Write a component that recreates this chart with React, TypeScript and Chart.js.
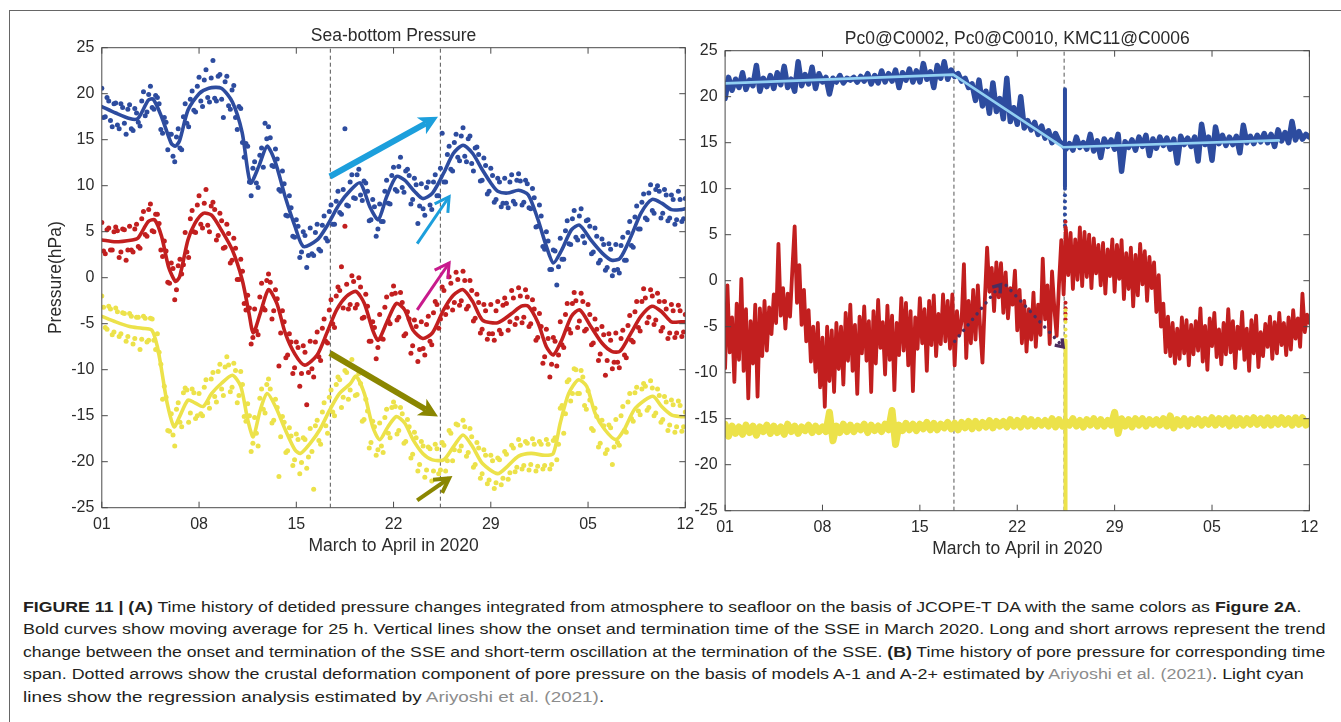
import React, { useEffect, useLayoutEffect, useRef } from "react";
import { Chart, registerables } from "chart.js";

Chart.register(...registerables);

const FONT = "'Liberation Sans', Arial, Helvetica, sans-serif";
const TEXT = "#2b2b2b";
const AXIS = "#4a4a4a";

// Time axis: days since 1 March 2020 00:00
const dayTicks = [0, 7, 14, 21, 28, 35, 42];
const dayTickLabels = ["01", "08", "15", "22", "29", "05", "12"];
const pressureMin = -25;
const pressureMax = 25;
const pressureStep = 5;
const sseOnsetDay = 16.45;
const sseEndDay = 24.37;

// ---------- (A) sea-bottom pressure ----------
// samples on the 6-hour grid (00, 06, 12, 18 h)
const blueSamples = [
  20.6, 17.5, 19.2, 16.4, 19.0, 16.2, 18.5, 15.6, 18.8, 16.0, 17.9, 16.5,
  20.2, 18.0, 20.8, 18.3, 19.6, 16.1, 17.4, 13.9, 15.6, 12.6, 16.2, 13.9,
  18.9, 16.4, 20.3, 18.0, 21.8, 18.6, 22.6, 19.1, 23.6, 19.2, 22.1, 17.4,
  21.9, 18.3, 20.9, 16.1, 18.4, 13.1, 14.3, 8.9, 12.6, 9.8, 14.1, 16.8,
  16.4, 12.2, 14.0, 9.6, 11.6, 6.8, 8.9, 4.5, 6.3, 2.2, 5.0, 1.1,
  5.4, 2.4, 5.8, 2.9, 6.7, 4.0, 7.9, 5.8, 9.4, 6.9, 16.2, 7.8,
  11.2, 8.6, 11.8, 8.4, 10.3, 6.2, 8.5, 4.5, 8.0, 6.1, 10.6, 8.0,
  12.0, 9.4, 13.1, 9.3, 11.8, 8.0, 10.8, 5.9, 10.2, 6.8, 10.4, 7.4,
  11.2, 8.9, 15.7, 10.4, 14.3, 11.6, 15.6, 12.7, 16.3, 12.6, 15.4, 11.6,
  14.2, 10.5, 13.0, 9.1, 11.9, 8.2, 10.8, 7.7, 10.8, 7.6, 11.2, 8.0,
  11.3, 7.9, 10.6, 7.6, 9.7, 5.5, 7.9, 3.4, 5.0, 0.9, 3.0, -0.8,
  4.3, 2.0, 6.2, 3.6, 7.3, 4.1, 7.5, 3.8, 6.3, 2.6, 5.4, 1.6,
  4.2, 0.8, 3.7, 0.2, 3.6, 0.5, 4.4, 1.9, 6.1, 3.3, 7.8, 5.3,
  9.1, 6.3, 10.1, 7.0, 10.0, 6.5, 9.6, 6.2, 9.0, 5.8, 9.4, 6.1,
  8.6,
];
const redSamples = [
  6.0, 2.6, 5.4, 3.0, 5.5, 2.2, 5.3, 1.9, 5.6, 2.8, 5.8, 3.2,
  7.2, 4.5, 8.0, 5.0, 6.9, 3.0, 4.0, -0.5, 1.6, -2.4, 1.3, 0.4,
  4.9, 2.2, 7.3, 4.9, 8.9, 5.4, 9.6, 5.0, 8.2, 4.1, 7.0, 3.2,
  5.8, 1.6, 4.3, -0.2, 2.0, -2.8, -1.9, -7.2, -3.4, -6.2, -0.6, -3.5,
  0.4, -4.5, -1.3, -9.6, -3.6, -8.7, -6.1, -10.4, -7.0, -11.8, -7.4, -13.8,
  -6.9, -10.8, -5.9, -9.0, -4.5, -7.1, -2.4, -5.4, -1.0, 1.2, 5.6, -3.4,
  0.2, -3.3, 0.0, -4.4, -1.8, -6.9, -4.8, -8.8, -4.0, -6.7, -2.1, -5.0,
  -0.9, -4.6, -1.6, -6.3, -3.7, -8.2, -4.6, -9.1, -4.8, -8.4, -4.2, -7.3,
  -2.6, -5.5, -1.0, -4.0, 0.1, -3.5, 0.6, -3.0, 0.7, -3.4, -0.3, -4.7,
  -1.8, -6.0, -2.9, -6.7, -2.9, -6.8, -2.6, -6.1, -2.2, -5.7, -1.4, -5.1,
  -1.1, -4.9, -1.3, -5.3, -2.4, -6.8, -3.9, -9.3, -5.6, -10.8, -6.5, -9.6,
  -4.8, -7.6, -2.8, -6.0, -1.6, -5.4, -1.7, -5.8, -2.9, -7.3, -4.5, -9.0,
  -5.3, -10.6, -6.1, -9.9, -6.0, -9.8, -5.7, -8.7, -4.1, -7.0, -2.6, -5.8,
  -1.2, -4.9, -1.3, -5.1, -1.7, -5.8, -2.6, -6.6, -2.9, -6.5, -3.0, -6.4,
  -4.0,
];
const yellowSamples = [
  -2.0, -5.4, -3.1, -6.2, -3.3, -6.4, -3.8, -6.9, -3.9, -7.2, -4.3, -7.8,
  -4.2, -7.0, -4.4, -6.8, -6.1, -9.4, -11.8, -16.6, -14.8, -18.3, -13.6, -16.2,
  -12.0, -15.7, -12.1, -15.3, -12.6, -15.0, -11.1, -14.2, -10.3, -13.5, -9.4, -12.8,
  -8.6, -12.4, -9.3, -13.6, -10.2, -15.1, -13.7, -18.9, -15.2, -18.3, -12.1, -14.7,
  -11.0, -15.8, -13.2, -21.6, -15.1, -19.0, -16.3, -20.4, -17.0, -21.3, -17.4, -20.7,
  -16.4, -23.0, -15.5, -18.1, -13.6, -16.9, -12.2, -15.0, -10.8, -14.1, -10.1, -13.2,
  -8.9, -12.8, -10.4, -15.6, -13.2, -18.5, -15.6, -19.3, -15.8, -19.0, -14.3, -17.4,
  -13.5, -17.0, -14.1, -18.0, -15.4, -19.6, -16.8, -21.0, -17.8, -21.7, -18.4, -22.1,
  -18.1, -21.3, -17.9, -21.0, -16.6, -19.9, -15.9, -18.8, -15.5, -19.4, -16.4, -20.6,
  -17.9, -21.8, -18.7, -22.4, -19.3, -22.9, -19.6, -22.5, -18.9, -21.9, -18.2, -21.1,
  -17.6, -20.8, -17.8, -20.9, -17.5, -21.0, -17.8, -20.8, -17.6, -20.8, -17.7, -19.8,
  -14.2, -16.9, -11.3, -13.4, -9.9, -12.6, -10.1, -13.9, -12.3, -16.4, -14.2, -18.4,
  -15.5, -19.1, -16.0, -20.3, -15.4, -18.2, -14.0, -16.8, -12.6, -15.6, -11.9, -14.9,
  -11.5, -14.4, -11.2, -15.0, -12.1, -15.7, -12.9, -16.6, -13.3, -16.8, -13.4, -16.7,
  -14.6,
];
// samples on the intermediate grid (03, 09, 15, 21 h)
const blueSamplesMid = [
  17.4, 19.6, 17.1, 18.9, 16.6, 18.9, 16.8, 18.3, 16.2, 18.4, 16.9, 19.2,
  17.6, 19.9, 18.5, 19.8, 18.9, 15.7, 16.9, 15.6, 13.2, 15.3, 14.1, 17.5,
  16.8, 19.4, 18.2, 20.8, 19.2, 21.5, 19.6, 21.7, 19.5, 21.9, 19.4, 21.3,
  18.7, 20.4, 17.4, 18.6, 14.7, 14.6, 10.4, 11.9, 10.3, 13.3, 12.0, 15.1,
  15.2, 12.1, 12.9, 9.4, 10.2, 6.7, 7.6, 4.4, 5.6, 2.8, 4.6, 2.4,
  2.6, 4.9, 3.1, 5.7, 4.3, 7.2, 5.8, 8.3, 7.1, 9.6, 7.9, 10.4,
  8.7, 11.2, 9.0, 10.5, 9.4, 6.3, 7.7, 5.3, 6.1, 9.4, 8.1, 11.1,
  9.6, 12.1, 9.8, 11.6, 11.1, 8.5, 10.1, 7.8, 7.5, 9.8, 7.9, 10.4,
  8.9, 11.9, 10.4, 13.4, 11.8, 14.7, 13.1, 15.4, 13.2, 15.1, 12.4, 14.1,
  13.4, 10.6, 12.2, 9.4, 11.1, 8.5, 10.4, 8.1, 8.1, 10.4, 8.3, 10.6,
  10.5, 8.2, 10.2, 7.5, 8.7, 5.6, 6.7, 3.1, 4.0, 0.9, 2.9, 1.2,
  2.0, 5.1, 3.7, 6.4, 4.4, 6.7, 4.5, 6.2, 5.6, 2.8, 4.5, 1.9,
  3.6, 1.1, 3.1, 0.8, 0.9, 3.5, 1.9, 4.9, 3.5, 6.6, 5.3, 8.2,
  6.5, 9.2, 7.3, 9.6, 9.4, 7.0, 9.0, 6.5, 8.5, 6.3, 8.5, 6.4,
];
const redSamplesMid = [
  2.9, 5.2, 3.0, 5.0, 5.1, 2.8, 5.2, 3.0, 3.0, 5.3, 3.4, 6.4,
  4.7, 7.4, 5.1, 6.9, 5.9, 2.3, 2.9, -0.6, 1.0, -1.3, 2.0, 1.4,
  2.8, 6.4, 5.0, 7.9, 5.8, 8.1, 5.7, 7.8, 7.4, 4.6, 6.2, 3.3,
  4.8, 1.9, 3.2, -0.2, 0.7, -3.5, -3.3, -6.5, -5.8, -2.1, -3.3, -0.3,
  -0.5, -3.6, -2.3, -6.0, -4.8, -8.4, -7.0, -9.8, -7.6, -10.4, -8.1, -10.3,
  -9.9, -7.0, -8.6, -5.5, -6.9, -3.5, -5.0, -2.0, -1.4, -3.3, -0.7, -2.9,
  -0.4, -2.9, -1.0, -4.3, -3.1, -6.9, -5.4, -7.6, -6.6, -3.2, -4.7, -1.8,
  -1.7, -4.3, -2.7, -6.1, -4.5, -7.4, -5.3, -7.8, -7.7, -5.1, -6.9, -3.8,
  -2.9, -4.5, -1.4, -3.2, -0.6, -2.7, -0.2, -2.5, -0.3, -3.1, -1.4, -4.4,
  -2.7, -5.6, -3.6, -6.1, -6.1, -3.6, -5.7, -3.0, -2.8, -4.8, -2.2, -4.4,
  -2.0, -4.3, -2.1, -5.0, -3.4, -6.5, -5.3, -8.6, -6.6, -9.4, -6.9, -8.4,
  -7.3, -4.0, -5.6, -2.8, -2.5, -4.7, -2.6, -5.6, -4.0, -7.1, -5.6, -8.3,
  -6.2, -9.0, -6.8, -9.2, -9.2, -6.6, -8.4, -5.2, -6.8, -3.7, -5.4, -2.6,
  -2.2, -4.3, -2.0, -4.6, -2.6, -5.4, -3.4, -6.0, -3.6, -6.0, -3.6, -5.9,
];
const yellowSamplesMid = [
  -3.2, -5.6, -3.4, -5.9, -3.7, -6.1, -3.9, -6.4, -4.2, -6.6, -4.3, -6.7,
  -4.4, -6.8, -4.5, -7.8, -8.1, -13.2, -13.0, -16.7, -17.1, -14.3, -15.7, -12.5,
  -12.2, -14.7, -12.5, -15.0, -14.8, -11.9, -13.6, -11.0, -12.9, -10.2, -12.1, -9.7,
  -9.5, -11.9, -10.1, -12.8, -11.6, -15.6, -15.0, -18.0, -16.9, -13.1, -14.3, -11.6,
  -12.1, -15.5, -14.1, -17.3, -15.7, -18.8, -17.2, -19.8, -17.6, -20.1, -17.6, -19.5,
  -18.9, -16.1, -17.7, -14.6, -16.1, -13.0, -14.6, -11.6, -11.1, -13.0, -10.3, -12.2,
  -9.7, -12.7, -11.5, -15.4, -14.5, -17.9, -16.2, -18.7, -18.3, -15.2, -16.9, -14.1,
  -14.0, -16.6, -14.8, -17.8, -16.2, -19.2, -17.4, -20.3, -18.3, -20.9, -18.6, -21.0,
  -18.6, -20.9, -18.2, -19.9, -16.9, -18.7, -16.0, -18.3, -16.2, -19.0, -17.3, -20.3,
  -18.5, -21.3, -19.3, -22.0, -19.9, -22.3, -19.8, -21.8, -19.2, -21.2, -18.5, -20.6,
  -18.2, -20.4, -18.0, -20.3, -18.1, -20.5, -18.1, -20.4, -18.1, -20.3, -17.4, -18.1,
  -13.9, -14.8, -11.1, -12.6, -10.0, -12.6, -10.8, -14.3, -13.3, -16.6, -15.1, -18.0,
  -16.1, -18.7, -16.3, -18.4, -17.9, -15.0, -16.6, -13.5, -15.3, -12.5, -14.5, -12.1,
  -11.8, -14.1, -12.0, -14.7, -12.8, -15.4, -13.5, -16.0, -13.8, -16.2, -13.9, -16.2,
];

// 25-hour moving averages: [day, hPa]
const blueAverage: [number, number][] = [
  [0, 18.6], [1, 17.9], [2, 17.3], [2.6, 17.3], [3.35, 19.3], [3.7, 19.4], [4.3, 17.5],
  [5.0, 14.6], [5.3, 14.3], [5.6, 14.9], [6.2, 18.2], [7.0, 20.0], [7.7, 20.6], [8.6, 20.6],
  [9.4, 19.1], [10.1, 15.8], [10.7, 10.3], [11.3, 12.1], [11.9, 14.3], [12.5, 12.5], [13.2, 8.8],
  [13.9, 5.6], [14.5, 3.4], [15.5, 4.1], [16.2, 5.6], [17.1, 8.0], [17.9, 9.5], [18.6, 10.3],
  [19.3, 7.7], [19.9, 6.3], [20.5, 8.8], [21.2, 11.0], [21.8, 10.6], [22.5, 9.4], [23.1, 8.6],
  [23.8, 9.2], [24.6, 11.35], [25.3, 13.5], [26.0, 14.4], [26.7, 13.5], [27.4, 11.7], [28.0, 10.3],
  [28.5, 9.4], [29.2, 9.2], [30.0, 9.5], [30.7, 9.0], [31.4, 6.3], [32.0, 3.4], [32.5, 1.6],
  [33.1, 3.0], [33.8, 5.2], [34.4, 5.7], [35.2, 4.1], [36.0, 2.7], [36.7, 1.9], [37.3, 2.1],
  [38.1, 4.5], [38.8, 7.0], [39.6, 8.5], [40.3, 8.1], [41.0, 7.4], [41.7, 7.4], [42, 7.5],
];
const redAverage: [number, number][] = [
  [0, 4.1], [1, 3.9], [2.2, 4.1], [2.6, 4.3], [3.35, 6.1], [3.8, 6.3], [4.3, 4.5], [4.8, 1.2],
  [5.3, -0.4], [5.6, 0.1], [6.2, 4.1], [6.7, 5.9], [7.3, 7.0], [7.9, 6.8], [8.6, 5.2], [9.4, 3.0],
  [10.1, -0.2], [10.6, -3.9], [10.9, -6.0], [11.4, -3.9], [12.0, -1.3], [12.6, -2.8], [13.2, -6.0],
  [13.9, -8.3], [14.6, -9.5], [15.5, -8.4], [16.2, -6.0], [16.9, -3.5], [17.6, -2.05],
  [18.3, -1.5], [18.9, -2.8], [19.5, -5.7], [19.9, -6.8], [20.5, -4.9], [21.2, -2.8], [21.8, -3.5],
  [22.4, -5.7], [23.1, -6.6], [23.8, -6.0], [24.6, -3.5], [25.3, -1.9], [26.0, -1.3], [26.7, -2.6],
  [27.4, -4.6], [28.5, -4.9], [29.5, -3.9], [30.2, -3.1], [30.7, -3.1], [31.4, -4.9], [32.0, -7.5],
  [32.5, -8.4], [33.1, -6.8], [33.8, -4.2], [34.4, -3.5], [35.2, -5.3], [36.0, -7.1], [36.7, -8.0],
  [37.3, -8.0], [38.1, -6.0], [38.8, -4.2], [39.6, -3.1], [40.3, -3.7], [41.0, -4.8], [41.7, -4.8],
  [42, -4.8],
];
const yellowAverage: [number, number][] = [
  [0, -4.2], [1, -4.8], [2, -5.3], [2.9, -5.5], [3.6, -5.7], [4.0, -7.5], [4.3, -10.0], [4.7, -13.6],
  [5.2, -16.2], [5.6, -15.1], [6.2, -13.3], [6.7, -13.6], [7.3, -14.0], [7.9, -12.6], [8.6, -11.5],
  [9.4, -10.6], [10.0, -11.8], [10.5, -15.4], [10.9, -17.3], [11.4, -14.4], [11.9, -12.6],
  [12.5, -14.0], [13.2, -16.5], [13.9, -18.7], [14.3, -19.1], [15.0, -18.0], [15.7, -16.5],
  [16.4, -14.4], [17.1, -12.6], [17.9, -11.5], [18.3, -10.7], [18.9, -12.6], [19.5, -16.2],
  [20.0, -17.6], [20.6, -16.2], [21.2, -15.1], [21.8, -15.8], [22.4, -17.6], [23.1, -19.1],
  [23.8, -19.8], [24.6, -19.8], [25.3, -18.4], [26.0, -17.1], [26.7, -18.4], [27.4, -20.2],
  [28.5, -21.3], [29.2, -20.5], [30.0, -19.4], [30.9, -19.1], [31.9, -19.3], [32.5, -19.1],
  [33.0, -15.8], [33.6, -12.6], [34.3, -11.1], [34.9, -11.8], [35.5, -14.7], [36.2, -16.5],
  [37.0, -17.6], [37.6, -16.5], [38.3, -14.4], [39.1, -13.3], [39.7, -12.9], [40.3, -14.0],
  [41.0, -14.9], [41.7, -15.1], [42, -15.1],
];

// trend / oscillation arrows: [day0, hPa0, day1, hPa1]
const trendArrowBlue = [16.42, 11.0, 24.2, 17.5];
const shortArrowBlue = [22.7, 3.7, 25.0, 8.8];
const shortArrowRed = [22.7, -3.5, 25.0, 1.6];
const trendArrowYellow = [16.42, -8.2, 24.2, -15.1];
const shortArrowYellow = [22.7, -24.2, 25.0, -21.8];

// ---------- (B) pore pressure ----------
// Pc0@C0002, 6-hourly
const poreBlue = [
  19.8, 22.1, 20.7, 21.9, 21.0, 22.6, 20.8, 21.8, 21.2, 23.4, 20.6, 22.0,
  21.1, 22.3, 20.9, 22.6, 21.3, 23.3, 21.0, 21.9, 20.6, 23.8, 21.2, 22.4,
  21.4, 23.2, 20.9, 22.5, 21.6, 22.1, 20.3, 22.0, 21.6, 22.3, 21.5, 22.0,
  21.8, 22.1, 21.6, 22.2, 21.7, 22.5, 21.4, 22.3, 21.5, 22.8, 21.6, 22.5,
  21.7, 22.9, 21.0, 22.6, 21.8, 23.0, 21.6, 22.8, 21.6, 23.6, 21.9, 22.7,
  21.0, 23.4, 22.0, 23.8, 21.9, 22.9, 22.2, 22.5, 21.7, 22.0, 21.0, 21.4,
  19.6, 21.8, 19.0, 20.6, 18.2, 21.5, 18.4, 19.8, 17.6, 22.0, 17.3, 18.8,
  17.0, 20.0, 16.6, 17.4, 16.4, 17.2, 15.9, 16.8, 15.5, 16.3, 15.0, 16.0,
  15.2, 14.8, 14.3, 14.9, 14.2, 15.6, 14.5, 15.0, 14.3, 15.9, 14.1, 15.2,
  13.4, 15.4, 14.6, 15.3, 14.3, 15.9, 11.9, 15.1, 14.5, 15.3, 14.2, 15.6,
  14.6, 15.8, 13.6, 15.4, 14.4, 15.6, 14.7, 15.5, 14.3, 15.4, 12.8, 15.7,
  14.8, 15.5, 14.6, 15.6, 13.0, 17.0, 14.8, 15.6, 13.1, 16.7, 14.9, 15.8,
  14.7, 15.6, 14.8, 15.7, 13.9, 16.9, 15.0, 15.7, 14.9, 15.8, 15.1, 16.0,
  15.0, 15.9, 14.6, 16.4, 15.2, 16.1, 15.0, 17.3, 15.3, 16.2, 15.4, 15.9,
  15.6,
];
// Pc0@C0010, 4-hourly
const poreRed = [
  -9.5, -0.5, -7.8, -4.0, -11.0, -2.5, -8.6, 0.2, -9.8, -3.1, -12.8, -4.4,
  -9.0, -2.6, -12.6, -3.0, -8.2, -2.2, -7.6, -2.9, -5.8, -1.5, -4.6, 4.0,
  -3.8, -0.8, -5.2, -1.4, -3.9, 1.2, 5.9, -2.4, 1.7, -4.8, -1.0, -6.6,
  -3.2, -8.8, -5.0, -9.9, -4.6, -11.6, -6.2, -13.7, -5.0, -10.9, -5.4, -12.1,
  -4.6, -9.6, -5.0, -11.3, -3.5, -8.7, -2.6, -9.8, -4.8, -12.3, -3.9, -7.9,
  -2.8, -8.7, -4.4, -12.1, -3.3, -9.0, -2.1, -7.3, -4.5, -10.2, -2.7, -8.6,
  -3.8, -11.9, -4.6, -8.1, -1.9, -7.6, -2.4, -9.2, -3.3, -12.0, -4.0, -7.4,
  -1.9, -6.8, -3.1, -9.8, -2.2, -7.0, -1.6, -8.2, -3.6, -6.9, -1.5, -6.6,
  -2.2, -7.4, -1.5, -9.2, -3.3, -5.9, -4.4, 1.8, -8.4, -2.2, -6.8, -1.0,
  -6.4, -0.5, -5.2, -8.9, -2.3, 3.6, -1.2, 1.4, -3.3, 2.0, -1.8, 1.9,
  -3.5, 0.9, -4.1, -0.8, -2.6, 1.1, -5.4, -1.0, -6.8, -2.2, -7.7, -3.1,
  -6.4, -1.3, -7.2, -2.6, -5.9, 2.4, -4.2, -0.5, -6.9, 1.0, -3.0, -6.0,
  -0.4, 4.4, -1.5, 5.6, 0.6, 5.2, -0.9, 4.5, 0.1, 5.8, -0.6, 5.3,
  0.4, 5.0, -0.8, 4.6, 0.8, 3.9, -0.5, 4.1, -1.4, 3.4, 0.5, 4.5,
  -1.2, 3.9, 0.2, 4.4, -2.0, 3.0, -0.9, 3.6, -2.8, 2.8, -1.6, 4.0,
  -0.4, 3.2, -2.2, 2.6, -0.8, 2.0, -3.4, 0.6, -5.0, -2.5, -7.8, -3.9,
  -8.2, -4.6, -9.0, -5.2, -8.5, -4.0, -7.9, -4.3, -9.2, -4.8, -8.0, -4.4,
  -7.6, -3.0, -8.8, -4.9, -9.7, -4.1, -7.1, -3.5, -8.3, -5.3, -9.1, -4.6,
  -8.0, -3.1, -7.8, -4.4, -9.5, -5.0, -7.4, -3.4, -8.6, -5.2, -9.8, -4.3,
  -7.9, -3.8, -9.4, -5.6, -8.2, -4.7, -7.2, -3.9, -8.5, -4.5, -7.9, -3.5,
  -7.0, -4.6, -8.1, -4.0, -7.5, -3.2, -6.3, -4.1, -7.2, -1.4, -5.6, -3.7,
  -4.6,
];
// KMC11@C0006, 6-hourly
const poreYellow = [
  -15.6, -16.9, -15.8, -16.6, -15.9, -16.7, -15.7, -16.5, -15.8, -16.8, -15.9, -16.4,
  -15.7, -16.6, -15.8, -16.5, -15.9, -16.7, -15.6, -16.4, -15.8, -16.6, -15.9, -16.3,
  -15.7, -16.5, -15.8, -16.4, -15.9, -16.4, -14.3, -17.4, -15.8, -16.5, -15.6, -16.4,
  -15.7, -16.4, -15.8, -16.2, -15.6, -16.5, -15.7, -16.3, -15.8, -16.4, -15.6, -16.2,
  -14.1, -17.8, -15.7, -16.3, -15.5, -16.2, -15.6, -16.3, -15.6, -16.1, -15.4, -16.2,
  -15.5, -16.2, -15.6, -16.0, -15.4, -16.1, -15.5, -16.2, -15.4, -16.0, -15.3, -16.1,
  -15.3, -16.0, -15.4, -15.9, -15.2, -16.0, -15.3, -15.8, -15.3, -15.9, -15.1, -15.8,
  -15.2, -15.9, -15.0, -15.8, -15.1, -15.8, -15.2, -15.7, -15.2, -15.8, -15.0, -15.9,
  -15.1, -15.8, -15.3, -15.7, -15.0, -15.8, -15.2, -15.9, -15.1, -15.7, -15.0, -15.8,
  -15.1, -15.8, -15.2, -15.7, -14.3, -16.6, -15.0, -15.8, -15.1, -15.9, -15.0, -15.7,
  -15.0, -15.8, -15.1, -15.6, -15.1, -15.7, -15.0, -15.8, -14.7, -16.0, -15.1, -15.7,
  -15.0, -15.8, -15.1, -15.6, -15.0, -15.7, -15.1, -15.6, -14.9, -15.7, -15.0, -15.6,
  -15.0, -15.8, -14.9, -15.7, -15.0, -15.7, -15.0, -15.6, -14.9, -15.6, -15.0, -15.7,
  -14.9, -15.7, -15.0, -15.6, -14.9, -15.6, -15.0, -15.7, -14.9, -15.6, -14.9, -15.7,
  -15.3,
];

// excursion at the end of the SSE
const excursionDay = 24.43;
const blueExcursionLine = [20.8, 10.2];
const blueExcursionDots = [10.0, 9.3, 8.6, 7.9, 7.2, 6.5, 6.0];
const redExcursionDots = [6.4, 5.8, 5.2, 4.6, -2.4, -3.0, -3.6, -4.2];
const yellowExcursionDots = [-3.2, -3.8, -4.5, -5.3, -6.0];
const yellowExcursionLine = [-6.5, -27];

// regression estimated by Ariyoshi et al. (2021): [day, hPa]
const regressionBlue: [number, number][] = [
  [0, 21.45], [16.4, 22.4], [24.3, 14.5], [39.8, 15.25],
];
// crustal deformation models A-1 / A-2+: [day0, hPa0, day1, hPa1]
const modelArrowA1 = [16.5, -6.6, 19.8, -0.45];
const modelArrowA2 = [20.2, -0.5, 24.3, -7.2];

// ---------- styling ----------
const C_BLUE = "#2d4c9f";
const C_RED = "#c21f1f";
const C_YELLOW = "#ece24a";
const C_REG = "#92d0f2";
const C_ARROW_BLUE = "#1c9fdc";
const C_ARROW_RED = "#c81a8c";
const C_ARROW_YELLOW = "#8a8600";
const C_MODEL = "#4b2d5e";

type Pt = { x: number; y: number };
const sampled = (vals: number[], perDay: number, shift = 0): Pt[] =>
  vals.map((v, i) => ({ x: i / perDay + shift, y: v }));
const pairs = (vals: [number, number][]): Pt[] => vals.map(([x, y]) => ({ x, y }));
const column = (day: number, vals: number[]): Pt[] => vals.map((y) => ({ x: day, y }));

type ArrowStyle = {
  color: string;
  width: number;
  head: "filled" | "open";
  headLen: number;
  headHalf: number;
  notch?: number;
  dotted?: boolean;
};
type Arrow = { at: number[]; style: ArrowStyle };

const bigArrow = (color: string): ArrowStyle => ({ color, width: 6, head: "filled", headLen: 19, headHalf: 9.5, notch: 5 });
const smallArrow = (color: string): ArrowStyle => ({ color, width: 3, head: "open", headLen: 14, headHalf: 8 });
const modelArrow: ArrowStyle = { color: C_MODEL, width: 3.4, head: "open", headLen: 7, headHalf: 5, dotted: true };

function arrowPlugin(arrows: Arrow[]) {
  return {
    id: "arrows",
    afterDatasetsDraw(chart: any) {
      const { ctx, scales } = chart;
      const sx = scales.x;
      const sy = scales.y;
      ctx.save();
      for (const a of arrows) {
        const [d0, v0, d1, v1] = a.at;
        const x0 = sx.getPixelForValue(d0);
        const y0 = sy.getPixelForValue(v0);
        const x1 = sx.getPixelForValue(d1);
        const y1 = sy.getPixelForValue(v1);
        const len = Math.hypot(x1 - x0, y1 - y0);
        const ux = (x1 - x0) / len;
        const uy = (y1 - y0) / len;
        const nx = -uy;
        const ny = ux;
        const s = a.style;
        ctx.strokeStyle = s.color;
        ctx.fillStyle = s.color;
        ctx.lineWidth = s.width;
        if (s.head === "filled") {
          const back = s.headLen - (s.notch || 0);
          ctx.lineCap = "butt";
          ctx.beginPath();
          ctx.moveTo(x0, y0);
          ctx.lineTo(x1 - ux * back, y1 - uy * back);
          ctx.stroke();
          ctx.beginPath();
          ctx.moveTo(x1, y1);
          ctx.lineTo(x1 - ux * s.headLen + nx * s.headHalf, y1 - uy * s.headLen + ny * s.headHalf);
          ctx.lineTo(x1 - ux * back, y1 - uy * back);
          ctx.lineTo(x1 - ux * s.headLen - nx * s.headHalf, y1 - uy * s.headLen - ny * s.headHalf);
          ctx.closePath();
          ctx.fill();
        } else {
          ctx.lineCap = s.dotted ? "round" : "butt";
          ctx.setLineDash(s.dotted ? [0.1, 7] : []);
          ctx.beginPath();
          ctx.moveTo(x0, y0);
          ctx.lineTo(x1, y1);
          ctx.stroke();
          ctx.setLineDash([]);
          ctx.lineJoin = "miter";
          ctx.lineCap = "butt";
          ctx.beginPath();
          ctx.moveTo(x1 - ux * s.headLen + nx * s.headHalf, y1 - uy * s.headLen + ny * s.headHalf);
          ctx.lineTo(x1, y1);
          ctx.lineTo(x1 - ux * s.headLen - nx * s.headHalf, y1 - uy * s.headLen - ny * s.headHalf);
          ctx.stroke();
        }
      }
      ctx.restore();
    },
  };
}

// MATLAB-style box with inward ticks on all four sides, plus the panel title
function framePlugin(title: string, titleY: number) {
  const TICK = 6;
  return {
    id: "frame",
    afterDraw(chart: any) {
      const { ctx, chartArea: a, scales } = chart;
      const sx = scales.x;
      const sy = scales.y;
      ctx.save();
      ctx.strokeStyle = AXIS;
      ctx.lineWidth = 1;
      ctx.strokeRect(a.left, a.top, a.right - a.left, a.bottom - a.top);
      ctx.beginPath();
      for (const d of dayTicks) {
        const px = sx.getPixelForValue(d);
        ctx.moveTo(px, a.bottom);
        ctx.lineTo(px, a.bottom - TICK);
        ctx.moveTo(px, a.top);
        ctx.lineTo(px, a.top + TICK);
      }
      for (let v = pressureMin; v <= pressureMax; v += pressureStep) {
        const py = sy.getPixelForValue(v);
        ctx.moveTo(a.left, py);
        ctx.lineTo(a.left + TICK, py);
        ctx.moveTo(a.right, py);
        ctx.lineTo(a.right - TICK, py);
      }
      ctx.stroke();
      ctx.fillStyle = TEXT;
      ctx.font = `17.5px ${FONT}`;
      ctx.textAlign = "center";
      ctx.textBaseline = "middle";
      ctx.fillText(title, (a.left + a.right) / 2, titleY);
      ctx.restore();
    },
  };
}

const sseMarker = (day: number) => ({
  data: [{ x: day, y: pressureMin }, { x: day, y: pressureMax }],
  showLine: true,
  borderColor: "#555555",
  borderWidth: 1,
  borderDash: [4, 3],
  pointRadius: 0,
});

const dots = (data: Pt[], color: string, r = 2.5) => ({
  data,
  showLine: false,
  pointRadius: r,
  pointBorderWidth: 0,
  pointBackgroundColor: color,
  borderColor: color,
});

const trace = (data: Pt[], color: string, width: number, tension = 0) => ({
  data,
  showLine: true,
  borderColor: color,
  borderWidth: width,
  borderJoinStyle: "round",
  borderCapStyle: "round",
  tension,
  pointRadius: 0,
});

function axes(opts: {
  xHeight: number;
  yWidth: number;
  yTitle?: string;
  yTitlePad?: number;
  xTitlePad: number;
}) {
  const tickFont = { family: FONT, size: 16 };
  const titleFont = { family: FONT, size: 17.5 };
  return {
    x: {
      type: "linear",
      min: 0,
      max: 42,
      afterBuildTicks: (s: any) => {
        s.ticks = dayTicks.map((value) => ({ value }));
      },
      ticks: {
        autoSkip: false,
        maxRotation: 0,
        padding: 7.7,
        color: TEXT,
        font: tickFont,
        callback: (v: number) => dayTickLabels[dayTicks.indexOf(v)] ?? "",
      },
      grid: { display: false, drawTicks: false },
      border: { display: false },
      title: {
        display: true,
        text: "March to April in 2020",
        color: TEXT,
        font: titleFont,
        padding: { top: 0, bottom: opts.xTitlePad },
      },
      afterFit: (s: any) => {
        s.height = opts.xHeight;
        s.paddingLeft = 0;
        s.paddingRight = 0;
      },
    },
    y: {
      type: "linear",
      min: pressureMin,
      max: pressureMax,
      ticks: { stepSize: pressureStep, padding: 7.5, color: TEXT, font: tickFont },
      grid: { display: false, drawTicks: false },
      border: { display: false },
      title: {
        display: !!opts.yTitle,
        text: opts.yTitle || "",
        color: TEXT,
        font: titleFont,
        padding: { top: opts.yTitlePad || 0, bottom: 0 },
      },
      afterFit: (s: any) => {
        s.width = opts.yWidth;
        s.paddingTop = 0;
        s.paddingBottom = 0;
      },
    },
  };
}

function withOrder(list: any[]) {
  // later entries are drawn on top
  return list.map((d, i) => ({ ...d, order: list.length - i }));
}

function seaBottomConfig() {
  const datasets = withOrder([
    sseMarker(sseOnsetDay),
    sseMarker(sseEndDay),
    dots(sampled(blueSamples, 4), C_BLUE),
    dots(sampled(blueSamplesMid, 4, 0.125), C_BLUE),
    trace(pairs(blueAverage), C_BLUE, 3.6, 0.25),
    dots(sampled(redSamples, 4), C_RED),
    dots(sampled(redSamplesMid, 4, 0.125), C_RED),
    trace(pairs(redAverage), C_RED, 3.6, 0.25),
    dots(sampled(yellowSamples, 4), C_YELLOW),
    dots(sampled(yellowSamplesMid, 4, 0.125), C_YELLOW),
    trace(pairs(yellowAverage), C_YELLOW, 3.6, 0.25),
  ]);
  const arrows: Arrow[] = [
    { at: trendArrowBlue, style: bigArrow(C_ARROW_BLUE) },
    { at: shortArrowBlue, style: smallArrow(C_ARROW_BLUE) },
    { at: shortArrowRed, style: smallArrow(C_ARROW_RED) },
    { at: trendArrowYellow, style: bigArrow(C_ARROW_YELLOW) },
    { at: shortArrowYellow, style: { ...smallArrow(C_ARROW_YELLOW), width: 4 } },
  ];
  return {
    type: "scatter",
    data: { datasets },
    options: {
      responsive: false,
      animation: false,
      events: [],
      layout: { padding: { left: 0, right: 700 - 685.3, top: 47.7, bottom: 0 } },
      plugins: { legend: { display: false }, tooltip: { enabled: false } },
      scales: axes({ xHeight: 570 - 507.7, yWidth: 101.8, yTitle: "Pressure(hPa)", yTitlePad: 45.8, xTitlePad: 13.1 }),
    },
    plugins: [arrowPlugin(arrows), framePlugin("Sea-bottom Pressure", 36.2)],
  };
}

function poreConfig() {
  const datasets = withOrder([
    sseMarker(sseOnsetDay),
    sseMarker(sseEndDay),
    trace(sampled(poreBlue, 4), C_BLUE, 5.5),
    trace(column(excursionDay, blueExcursionLine), C_BLUE, 4),
    dots(column(excursionDay, blueExcursionDots), C_BLUE, 2),
    trace(pairs(regressionBlue), C_REG, 2.6),
    trace(sampled(poreRed, 6), C_RED, 3.8),
    dots(column(excursionDay + 0.04, redExcursionDots), C_RED, 2),
    trace(sampled(poreYellow, 4), C_YELLOW, 7),
    dots(column(excursionDay + 0.04, yellowExcursionDots), C_YELLOW, 2),
    trace(column(excursionDay + 0.04, yellowExcursionLine), C_YELLOW, 4),
  ]);
  const arrows: Arrow[] = [
    { at: modelArrowA1, style: modelArrow },
    { at: modelArrowA2, style: modelArrow },
  ];
  return {
    type: "scatter",
    data: { datasets },
    options: {
      responsive: false,
      animation: false,
      events: [],
      layout: { padding: { left: 0, right: 651 - 619.4, top: 50.7, bottom: 0 } },
      plugins: { legend: { display: false }, tooltip: { enabled: false } },
      scales: axes({ xHeight: 570 - 510.7, yWidth: 35.1, xTitlePad: 10.8 }),
    },
    plugins: [arrowPlugin(arrows), framePlugin("Pc0@C0002, Pc0@C0010, KMC11@C0006", 39.5)],
  };
}

function ChartCanvas(props: { left: number; width: number; height: number; make: () => any }) {
  const ref = useRef<HTMLCanvasElement | null>(null);
  useEffect(() => {
    if (!ref.current) return;
    const chart = new Chart(ref.current, props.make());
    return () => chart.destroy();
  }, []);
  return (
    <canvas
      ref={ref}
      width={props.width}
      height={props.height}
      style={{ position: "absolute", left: props.left, top: 0, width: props.width, height: props.height }}
    />
  );
}

const GRAY = { color: "#8c8c8c" };
const captionLines: React.ReactNode[] = [
  <>
    <b>FIGURE 11 | (A)</b> Time history of detided pressure changes integrated from atmosphere to seafloor on the basis of
    JCOPE-T DA with the same colors as <b>Figure 2A</b>.
  </>,
  <>
    Bold curves show moving average for 25 h. Vertical lines show the onset and termination time of the SSE in March 2020.
    Long and short arrows represent the trend
  </>,
  <>
    change between the onset and termination of the SSE and short-term oscillation at the termination of the SSE.{" "}
    <b>(B)</b> Time history of pore pressure for corresponding time
  </>,
  <>
    span. Dotted arrows show the crustal deformation component of pore pressure on the basis of models A-1 and A-2+
    estimated by <span style={GRAY}>Ariyoshi et al. (2021)</span>. Light cyan
  </>,
  <>
    lines show the regression analysis estimated by <span style={GRAY}>Ariyoshi et al. (2021)</span>.
  </>,
];
const captionWidths = [1278, 1302, 1302, 1281, 581];
const captionTops = [596.6, 619.1, 641.9, 664.1, 686.8];

function Caption() {
  const refs = useRef<(HTMLSpanElement | null)[]>([]);
  useLayoutEffect(() => {
    refs.current.forEach((el, i) => {
      if (!el) return;
      const natural = el.offsetWidth;
      if (natural > 0) el.style.transform = `scaleX(${captionWidths[i] / natural})`;
    });
  }, []);
  return (
    <>
      {captionLines.map((line, i) => (
        <span
          key={i}
          ref={(el) => {
            refs.current[i] = el;
          }}
          style={{
            position: "absolute",
            left: 23,
            top: captionTops[i],
            display: "inline-block",
            whiteSpace: "nowrap",
            fontFamily: FONT,
            fontSize: 14,
            lineHeight: "20px",
            color: "#231f20",
            transformOrigin: "0 0",
          }}
        >
          {line}
        </span>
      ))}
    </>
  );
}

export default function App() {
  return (
    <div
      style={{
        position: "absolute",
        left: 0,
        top: 0,
        width: 1341,
        height: 722,
        background: "#ffffff",
        overflow: "hidden",
      }}
    >
      <div
        style={{
          position: "absolute",
          left: 9,
          top: 10,
          width: 1341,
          height: 720,
          borderTop: "1.5px solid #666",
          borderLeft: "1.5px solid #666",
        }}
      />
      <ChartCanvas left={0} width={700} height={570} make={seaBottomConfig} />
      <ChartCanvas left={690} width={651} height={570} make={poreConfig} />
      <Caption />
    </div>
  );
}
